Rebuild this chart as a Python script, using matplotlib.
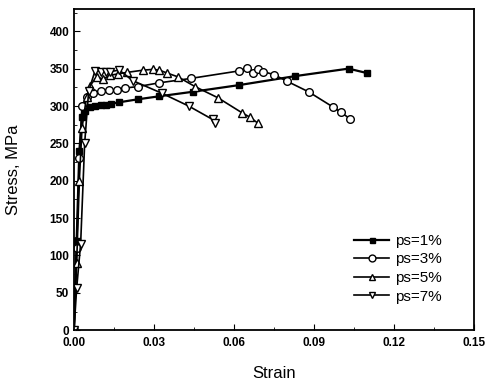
import matplotlib.pyplot as plt
from matplotlib.ticker import MultipleLocator

plt.rcParams['font.family'] = ['Liberation Sans', 'DejaVu Sans']

# ps=1% (filled squares)
strain1 = [0, 0.001, 0.002, 0.003, 0.004, 0.006, 0.008, 0.010, 0.012, 0.014, 0.017,
           0.024, 0.032, 0.0445, 0.062, 0.083, 0.103, 0.110]
stress1 = [0, 120, 240, 285, 293, 298, 300, 301, 302, 303, 305,
           309, 313, 319, 328, 340, 350, 344]

# ps=3% (open circles)
strain3 = [0, 0.001, 0.002, 0.003, 0.005, 0.007, 0.010, 0.013, 0.016, 0.019, 0.024,
           0.032, 0.044, 0.062, 0.065, 0.067, 0.069, 0.071, 0.075, 0.080, 0.088,
           0.097, 0.100, 0.1035]
stress3 = [0, 110, 230, 300, 312, 318, 320, 321, 322, 324, 326,
           331, 337, 347, 351, 344, 349, 346, 342, 333, 319,
           299, 292, 283]

# ps=5% (open up-triangles)
strain5 = [0, 0.001, 0.002, 0.003, 0.0047, 0.006, 0.0085, 0.011, 0.0135, 0.0165, 0.020,
           0.026, 0.0296, 0.032, 0.035, 0.039, 0.0454, 0.054, 0.063, 0.066, 0.069]
stress5 = [0, 90, 200, 270, 312, 327, 339, 336, 341, 343, 345,
           348, 349, 348, 344, 339, 326, 311, 291, 285, 277]

# ps=7% (open down-triangles)
strain7 = [0, 0.001, 0.0025, 0.004, 0.0055, 0.0079, 0.010, 0.012, 0.0135, 0.017,
           0.022, 0.033, 0.043, 0.052, 0.053]
stress7 = [0, 56, 116, 250, 320, 347, 346, 345, 346, 348,
           334, 317, 300, 282, 277]

fig, ax = plt.subplots(figsize=(4.9, 3.84), dpi=100)
fig.subplots_adjust(left=0.151, right=0.967, bottom=0.14, top=0.977)

ax.plot(strain1, stress1, color='black', lw=1.6, marker='s', ms=4,
        mfc='black', mec='black', label='ps=1%')
ax.plot(strain3, stress3, color='black', lw=1.2, marker='o', ms=5.5,
        mfc='white', mec='black', label='ps=3%')
ax.plot(strain5, stress5, color='black', lw=1.2, marker='^', ms=5.5,
        mfc='white', mec='black', label='ps=5%')
ax.plot(strain7, stress7, color='black', lw=1.2, marker='v', ms=5.5,
        mfc='white', mec='black', label='ps=7%')

ax.set_xlim(0, 0.15)
ax.set_ylim(0, 430)
ax.xaxis.set_major_locator(MultipleLocator(0.03))
ax.xaxis.set_minor_locator(MultipleLocator(0.015))
ax.yaxis.set_major_locator(MultipleLocator(50))
ax.yaxis.set_minor_locator(MultipleLocator(25))
ax.xaxis.set_major_formatter(plt.FormatStrFormatter('%.2f'))
ax.tick_params(which='both', direction='in')
ax.tick_params(which='major', length=4, labelsize=8.5)
ax.tick_params(axis='x', which='major', pad=5)
ax.tick_params(which='minor', length=2)
for lab in ax.get_xticklabels() + ax.get_yticklabels():
    lab.set_fontweight('bold')
for sp in ax.spines.values():
    sp.set_linewidth(1.3)

ax.set_xlabel('Strain', fontsize=12, labelpad=12)
ax.set_ylabel('Stress, MPa', fontsize=12, labelpad=20)

ax.legend(loc='lower right', bbox_to_anchor=(0.955, 0.04), frameon=False,
          fontsize=11, handlelength=2.3, labelspacing=0.3, handletextpad=0.4,
          markerscale=0.9)

fig.savefig('out.png')
